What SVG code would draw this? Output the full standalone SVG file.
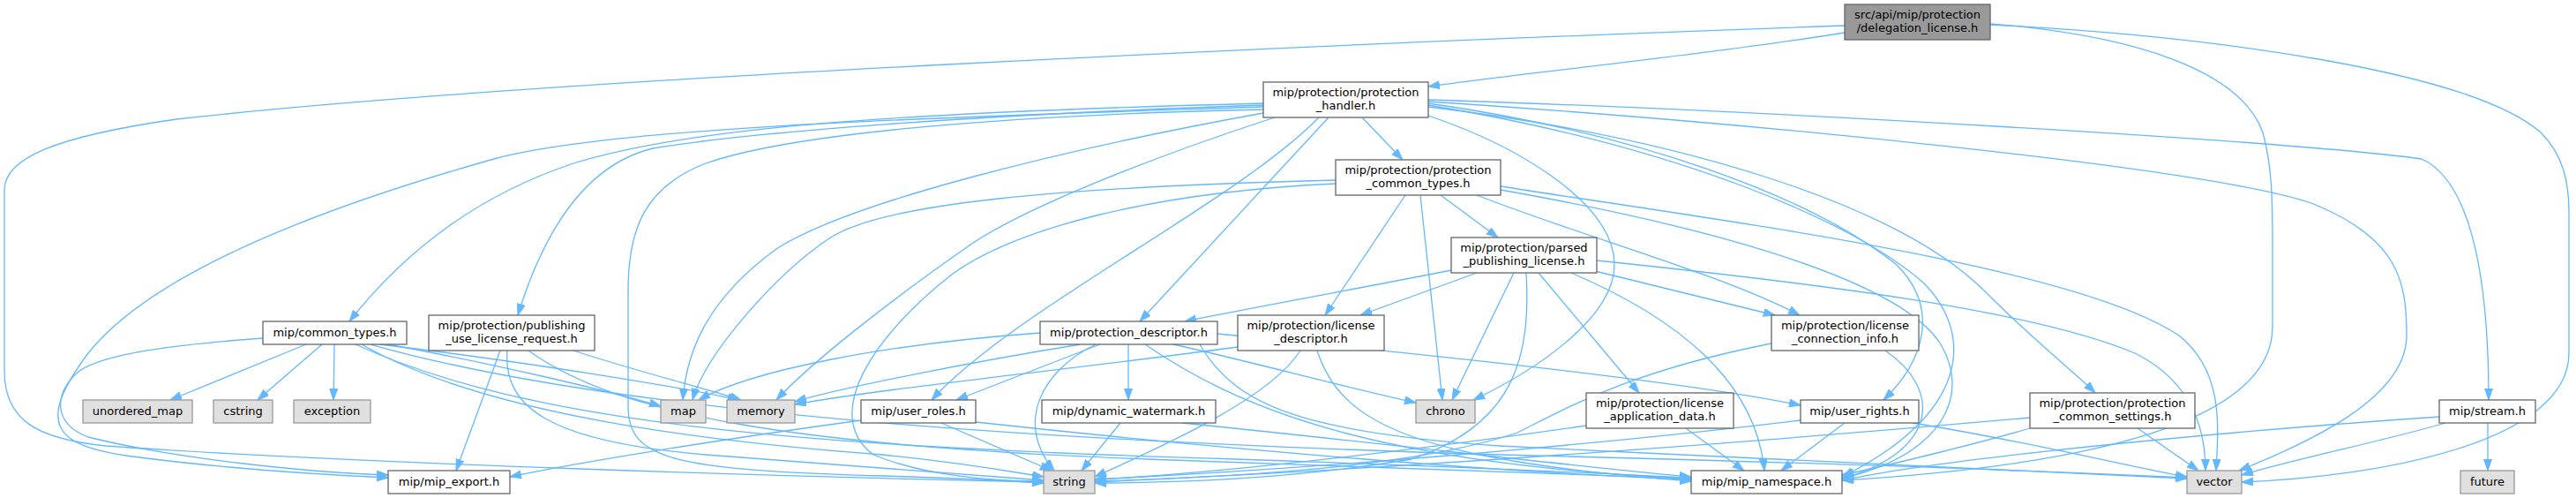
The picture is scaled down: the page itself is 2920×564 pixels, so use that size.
<svg xmlns="http://www.w3.org/2000/svg" width="2920" height="564" viewBox="0 0 2920 564">
<style>
.e{fill:none;stroke:#63b8ff;stroke-width:1.3;marker-end:url(#a)}
.n rect{fill:#fff;stroke:#666;stroke-width:1.3}
.s rect{fill:#e0e0e0;stroke:#999;stroke-width:1.3}
.r rect{fill:#999;stroke:#666;stroke-width:1.3}
text{font-family:"DejaVu Sans","Liberation Sans",sans-serif;font-size:13px;text-anchor:middle;fill:#000}
</style>
<defs>
<marker id="a" markerUnits="userSpaceOnUse" markerWidth="14" markerHeight="10" refX="13" refY="4.5" orient="auto">
<path d="M0,0 L13,4.5 L0,9 Z" fill="#63b8ff" stroke="#63b8ff" stroke-width="1"/>
</marker>
</defs>
<rect width="2920" height="564" fill="#fff"/>
<g id="edges">
<path class="e" d="M2091,37 C1950,60 1750,80 1619,98"/>
<path class="e" d="M2091,29 C1500,50 600,90 200,135 C60,155 5,180 5,215 L5,420 C5,475 40,497 120,505 C400,525 900,540 1183,546"/>
<path class="e" d="M2256,27 C2420,40 2540,80 2565,150 C2576,190 2576,230 2576,280 L2576,370 C2576,470 2400,525 2088,544"/>
<path class="e" d="M2256,28 C2500,40 2800,80 2880,150 C2905,175 2912,205 2912,240 L2912,400 C2912,500 2700,540 2541,546"/>
<path class="e" d="M1432,117 C1000,128 780,145 650,185 C560,215 470,270 396,364"/>
<path class="e" d="M1432,119 C1100,130 850,150 740,168 C670,185 620,250 587,357"/>
<path class="e" d="M1432,121 C1100,132 700,142 560,180 C400,225 180,300 100,400 C40,480 60,505 150,517 C250,530 350,537 440,541"/>
<path class="e" d="M1432,124 C1150,130 900,150 800,185 C730,212 712,260 712,330 L712,460 C712,520 760,532 1000,539 C1100,542 1150,545 1183,547"/>
<path class="e" d="M1432,128 C1200,170 960,230 880,282 C800,340 778,400 774,453"/>
<path class="e" d="M1445,133 C1300,180 1150,240 1093,282 C1010,340 920,410 880,453"/>
<path class="e" d="M1495,133 C1400,230 1150,350 1056,453"/>
<path class="e" d="M1506,133 L1292,364"/>
<path class="e" d="M1544,133 L1590,181"/>
<path class="e" d="M1619,131 C1720,165 1830,230 1830,300 C1830,360 1740,420 1670,453"/>
<path class="e" d="M1619,113 C2000,125 2600,160 2745,180 C2790,200 2821,280 2821,453"/>
<path class="e" d="M1619,115 C2000,140 2500,190 2620,230 C2720,270 2728,320 2728,380 C2728,450 2620,500 2538,533"/>
<path class="e" d="M1619,117 C1850,150 2050,220 2150,300 C2200,350 2180,410 2135,453"/>
<path class="e" d="M1619,119 C1900,165 2100,250 2180,320 C2240,380 2230,470 2088,540"/>
<path class="e" d="M1619,121 C1900,155 2150,230 2250,330 C2310,390 2350,420 2375,445"/>
<path class="e" d="M1514,204 C1200,212 1000,230 940,270 C880,310 800,400 785,453"/>
<path class="e" d="M1514,208 C1300,218 1150,260 1080,310 C990,380 930,470 990,515 C1050,540 1130,545 1183,545"/>
<path class="e" d="M1610,221 L1635,453"/>
<path class="e" d="M1593,221 L1502,357"/>
<path class="e" d="M1633,221 L1698,269"/>
<path class="e" d="M1674,221 C1800,270 1950,310 2040,357"/>
<path class="e" d="M1701,215 C1900,250 2150,310 2200,390 C2235,450 2200,515 2088,542"/>
<path class="e" d="M1701,211 C1950,250 2350,300 2470,380 C2520,420 2515,480 2512,533"/>
<path class="e" d="M1645,306 C1550,325 1420,348 1343,364"/>
<path class="e" d="M1674,309 L1542,357"/>
<path class="e" d="M1716,309 L1646,453"/>
<path class="e" d="M1730,309 C1735,400 1720,480 1600,520 C1450,545 1300,547 1241,547"/>
<path class="e" d="M1744,309 L1858,445"/>
<path class="e" d="M1781,309 C1900,360 1990,430 2000,533"/>
<path class="e" d="M1808,307 L2012,357"/>
<path class="e" d="M1810,295 C2050,320 2300,350 2420,400 C2480,430 2500,480 2500,533"/>
<path class="e" d="M1403,393 C1200,420 1000,440 901,458"/>
<path class="e" d="M1474,397 C1440,450 1330,500 1241,540"/>
<path class="e" d="M1493,397 C1520,480 1600,520 1917,545"/>
<path class="e" d="M1179,377 C1000,390 850,420 792,453"/>
<path class="e" d="M1225,390 C1100,410 950,440 901,455"/>
<path class="e" d="M1247,390 L1084,453"/>
<path class="e" d="M1242,390 C1180,420 1150,480 1195,533"/>
<path class="e" d="M1279,390 L1279,453"/>
<path class="e" d="M1298,390 C1400,460 1550,525 1917,542"/>
<path class="e" d="M1330,390 C1420,410 1530,440 1605,456"/>
<path class="e" d="M1380,378 C1600,400 1900,430 2041,459"/>
<path class="e" d="M1360,390 C1400,460 1480,490 1700,505 C2000,520 2350,535 2479,542"/>
<path class="e" d="M1067,479 L1192,533"/>
<path class="e" d="M1106,478 C1400,510 1700,535 1917,543"/>
<path class="e" d="M976,476 C800,500 650,525 578,540"/>
<path class="e" d="M1270,479 L1226,533"/>
<path class="e" d="M1340,479 C1550,500 1800,530 1917,540"/>
<path class="e" d="M1798,482 C1600,510 1400,535 1241,543"/>
<path class="e" d="M1911,485 L1977,533"/>
<path class="e" d="M2008,389 C1850,420 1780,460 1720,490 C1600,530 1400,540 1241,545"/>
<path class="e" d="M2137,397 C2200,440 2200,510 2088,542"/>
<path class="e" d="M2041,476 C1800,505 1500,530 1241,543"/>
<path class="e" d="M2091,479 L2019,533"/>
<path class="e" d="M2168,479 C2300,500 2420,530 2479,540"/>
<path class="e" d="M2301,473 C2000,500 1600,530 1241,546"/>
<path class="e" d="M2301,485 C2250,500 2150,525 2088,538"/>
<path class="e" d="M2423,485 L2492,533"/>
<path class="e" d="M2765,472 C2500,490 2200,520 2088,544"/>
<path class="e" d="M2772,479 C2700,500 2600,520 2541,538"/>
<path class="e" d="M2820,479 L2820,533"/>
<path class="e" d="M347,390 L193,453"/>
<path class="e" d="M365,390 L292,453"/>
<path class="e" d="M379,390 L378,453"/>
<path class="e" d="M440,390 C550,410 680,440 749,460"/>
<path class="e" d="M430,390 C600,410 780,440 838,453"/>
<path class="e" d="M410,390 C550,470 800,500 1000,515 C1100,525 1150,535 1183,540"/>
<path class="e" d="M403,390 C600,480 900,505 1400,520 C1700,530 1850,538 1917,541"/>
<path class="e" d="M420,390 C700,470 1200,500 1700,515 C2100,525 2350,535 2479,541"/>
<path class="e" d="M298,383 C200,390 120,400 90,420 C60,445 60,480 100,495 C200,520 350,535 440,538"/>
<path class="e" d="M567,397 L517,533"/>
<path class="e" d="M575,397 C570,460 620,500 800,515 C1000,530 1120,540 1183,544"/>
<path class="e" d="M599,397 C700,470 900,505 1300,520 C1600,530 1800,537 1917,542"/>
<path class="e" d="M650,397 C720,420 800,440 840,453"/>
</g>
<g id="root" class="r"><rect x="2091" y="5" width="165" height="40"/><text x="2173.5" y="21">src/api/mip/protection</text><text x="2173.5" y="36">/delegation_license.h</text></g>
<g id="protection_handler" class="n"><rect x="1432" y="93" width="187" height="40"/><text x="1525.5" y="109">mip/protection/protection</text><text x="1525.5" y="124">_handler.h</text></g>
<g id="protection_common_types" class="n"><rect x="1514" y="181" width="187" height="40"/><text x="1607.5" y="197">mip/protection/protection</text><text x="1607.5" y="212">_common_types.h</text></g>
<g id="parsed_publishing_license" class="n"><rect x="1645" y="269" width="165" height="40"/><text x="1727.5" y="285">mip/protection/parsed</text><text x="1727.5" y="300">_publishing_license.h</text></g>
<g id="license_descriptor" class="n"><rect x="1403" y="357" width="166" height="40"/><text x="1486" y="373">mip/protection/license</text><text x="1486" y="388">_descriptor.h</text></g>
<g id="license_connection_info" class="n"><rect x="2008" y="357" width="167" height="40"/><text x="2091.5" y="373">mip/protection/license</text><text x="2091.5" y="388">_connection_info.h</text></g>
<g id="protection_descriptor" class="n"><rect x="1179" y="364" width="201" height="26"/><text x="1279.5" y="381">mip/protection_descriptor.h</text></g>
<g id="common_types" class="n"><rect x="298" y="364" width="163" height="26"/><text x="379.5" y="381">mip/common_types.h</text></g>
<g id="publishing_use_license_request" class="n"><rect x="486" y="357" width="188" height="40"/><text x="580" y="373">mip/protection/publishing</text><text x="580" y="388">_use_license_request.h</text></g>
<g id="map" class="s"><rect x="749" y="453" width="51" height="26"/><text x="774.5" y="470">map</text></g>
<g id="memory" class="s"><rect x="824" y="453" width="77" height="26"/><text x="862.5" y="470">memory</text></g>
<g id="user_roles" class="n"><rect x="976" y="453" width="130" height="26"/><text x="1041" y="470">mip/user_roles.h</text></g>
<g id="dynamic_watermark" class="n"><rect x="1181" y="453" width="197" height="26"/><text x="1279.5" y="470">mip/dynamic_watermark.h</text></g>
<g id="chrono" class="s"><rect x="1605" y="453" width="67" height="26"/><text x="1638.5" y="470">chrono</text></g>
<g id="user_rights" class="n"><rect x="2041" y="453" width="134" height="26"/><text x="2108" y="470">mip/user_rights.h</text></g>
<g id="stream" class="n"><rect x="2765" y="453" width="109" height="26"/><text x="2819.5" y="470">mip/stream.h</text></g>
<g id="unordered_map" class="s"><rect x="94" y="453" width="124" height="26"/><text x="156" y="470">unordered_map</text></g>
<g id="cstring" class="s"><rect x="242" y="453" width="67" height="26"/><text x="275.5" y="470">cstring</text></g>
<g id="exception" class="s"><rect x="333" y="453" width="87" height="26"/><text x="376.5" y="470">exception</text></g>
<g id="license_application_data" class="n"><rect x="1798" y="445" width="167" height="40"/><text x="1881.5" y="461">mip/protection/license</text><text x="1881.5" y="476">_application_data.h</text></g>
<g id="protection_common_settings" class="n"><rect x="2301" y="445" width="187" height="40"/><text x="2394.5" y="461">mip/protection/protection</text><text x="2394.5" y="476">_common_settings.h</text></g>
<g id="mip_export" class="n"><rect x="440" y="533" width="138" height="26"/><text x="509" y="550">mip/mip_export.h</text></g>
<g id="string" class="s"><rect x="1183" y="533" width="58" height="26"/><text x="1212" y="550">string</text></g>
<g id="mip_namespace" class="n"><rect x="1917" y="533" width="171" height="26"/><text x="2002.5" y="550">mip/mip_namespace.h</text></g>
<g id="vector" class="s"><rect x="2479" y="533" width="62" height="26"/><text x="2510" y="550">vector</text></g>
<g id="future" class="s"><rect x="2789" y="533" width="61" height="26"/><text x="2819.5" y="550">future</text></g>
</svg>
